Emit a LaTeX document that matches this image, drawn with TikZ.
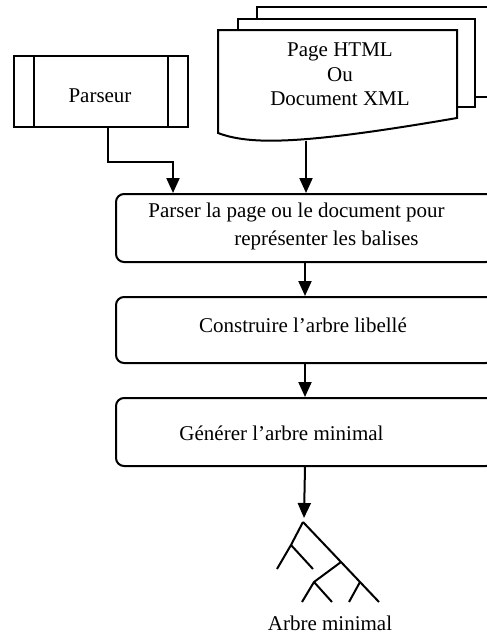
\documentclass[tikz,border=0pt]{standalone}
\usepackage{fontspec}
\setmainfont{Liberation Serif}
\usetikzlibrary{arrows.meta,calc}
\begin{document}
\begin{tikzpicture}[x=1pt,y=-1pt,
  line width=2pt,
  flowbox/.style={draw,rounded corners=8pt,minimum width=378pt,inner sep=0pt},
  lbl/.style={anchor=base,inner sep=0pt,font=\fontsize{21}{24}\selectfont},
  arr/.style={-{Triangle[length=15pt,width=13pt]}},
  twig/.style={line width=2pt}]
\useasboundingbox (0,0) rectangle (487,637);
\clip (0,0) rectangle (487,637);

% Parseur: predefined process box
\node[draw,minimum width=174pt,minimum height=71pt,inner sep=0pt] (parseur) at (101,91.5) {};
\draw (parseur.north west) ++(21,0) -- ++(0,71);
\draw (parseur.north east) ++(-21,0) -- ++(0,71);
\node[lbl] (parseurtxt) at (100,102.7) {Parseur};

% Stack of documents
\draw[fill=white] (257,7) rectangle (510,97);
\draw[fill=white] (238,19) rectangle (475,107);
\draw[fill=white] (218,30) -- (457,30) -- (457,118)
  .. controls (300,145) and (250,145) .. (218,133) -- cycle;
\coordinate (docbot) at (306,140.5);
\node[lbl] (doc1) at (340,56.7) {Page HTML};
\node[lbl] (doc2) at (340,81.7) {Ou};
\node[lbl] (doc3) at (340,105) {Document XML};

% Process steps
\node[flowbox,minimum height=68pt] (step1) at (305,228) {};
\node[lbl] (s1a) at (296.5,217) {Parser la page ou le document pour};
\node[lbl] (s1b) at (326.5,245.5) {représenter les balises};

\node[flowbox,minimum height=66pt] (step2) at (305,330) {};
\node[lbl] (s2) at (303,332.7) {Construire l’arbre libellé};

\node[flowbox,minimum height=68pt] (step3) at (305,432) {};
\node[lbl] (s3) at (281.5,440) {Générer l’arbre minimal};

% Connectors
\coordinate (pbend) at ($(parseur.south)+(7,34)$);
\draw[arr] ($(parseur.south)+(7,0)$) |- (pbend) -| (step1.north -| 173,0);
\draw[arr] (docbot) -- (step1.north -| docbot);
\draw[arr] (step1.south) -- (step2.north);
\draw[arr] (step2.south) -- (step3.north);
\coordinate (treetop) at (304,518);
\draw[arr] (step3.south) -- (treetop);

% Minimal tree
\coordinate (R) at (303,522);
\coordinate (A) at (291,545);
\coordinate (B) at (341,562);
\coordinate (C) at (314,582);
\coordinate (D) at (360,582);
\draw[twig] (R) -- (379,602);
\draw[twig] (R) -- (A) -- (277,569);
\draw[twig] (A) -- (313,569);
\draw[twig] (B) -- (C) -- (302,602);
\draw[twig] (C) -- (332,602);
\draw[twig] (D) -- (349,602);
\node[lbl] (treelbl) at (330,630.7) {Arbre minimal};
\end{tikzpicture}
\end{document}
